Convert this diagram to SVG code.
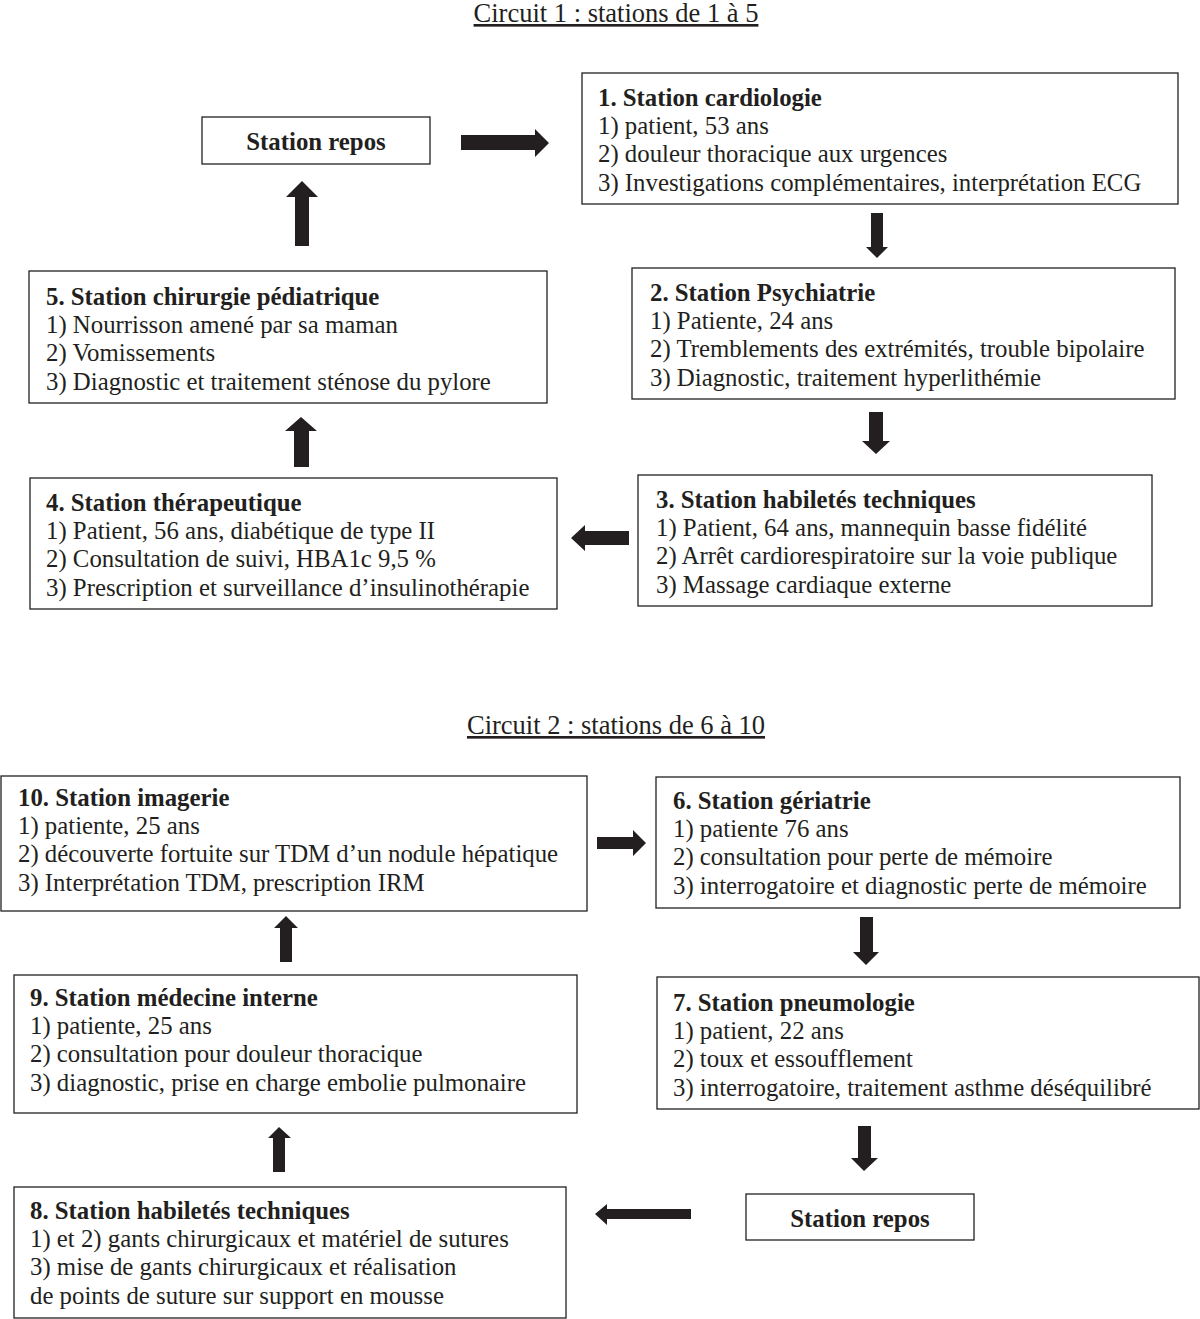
<svg xmlns="http://www.w3.org/2000/svg" width="1200" height="1319" viewBox="0 0 1200 1319">
<style>
text{font-family:"Liberation Serif","Times New Roman",serif;font-size:24.8px;fill:#231f20}
.b{font-weight:bold}
.t{text-decoration:underline;font-size:26.5px}
.box{fill:#fff;stroke:#231f20;stroke-width:1.3}
.ar{fill:#231f20}
</style>
<rect width="1200" height="1319" fill="#fff"/>
<text class="t" x="616" y="22" text-anchor="middle">Circuit 1 : stations de 1 à 5</text>
<text class="t" x="616" y="734" text-anchor="middle">Circuit 2 : stations de 6 à 10</text>

<g id="repos1"><rect class="box" x="202" y="117" width="228" height="47"/><text class="b" x="316" y="150" text-anchor="middle">Station repos</text></g>
<g id="s1"><rect class="box" x="582" y="73" width="596" height="131"/>
<text x="598" y="106" class="b">1. Station cardiologie</text>
<text x="598" y="134">1) patient, 53 ans</text>
<text x="598" y="162">2) douleur thoracique aux urgences</text>
<text x="598" y="191">3) Investigations complémentaires, interprétation ECG</text></g>
<g id="s2"><rect class="box" x="632" y="268" width="543" height="131"/>
<text x="650" y="301" class="b">2. Station Psychiatrie</text>
<text x="650" y="329">1) Patiente, 24 ans</text>
<text x="650" y="357">2) Tremblements des extrémités, trouble bipolaire</text>
<text x="650" y="386">3) Diagnostic, traitement hyperlithémie</text></g>
<g id="s3"><rect class="box" x="638" y="475" width="514" height="131"/>
<text x="656" y="508" class="b">3. Station habiletés techniques</text>
<text x="656" y="536">1) Patient, 64 ans, mannequin basse fidélité</text>
<text x="656" y="564">2) Arrêt cardiorespiratoire sur la voie publique</text>
<text x="656" y="593">3) Massage cardiaque externe</text></g>
<g id="s4"><rect class="box" x="30" y="478" width="527" height="131"/>
<text x="46" y="511" class="b">4. Station thérapeutique</text>
<text x="46" y="539">1) Patient, 56 ans, diabétique de type II</text>
<text x="46" y="567">2) Consultation de suivi, HBA1c 9,5 %</text>
<text x="46" y="596">3) Prescription et surveillance d’insulinothérapie</text></g>
<g id="s5"><rect class="box" x="29" y="271" width="518" height="132"/>
<text x="46" y="305" class="b">5. Station chirurgie pédiatrique</text>
<text x="46" y="333">1) Nourrisson amené par sa maman</text>
<text x="46" y="361">2) Vomissements</text>
<text x="46" y="390">3) Diagnostic et traitement sténose du pylore</text></g>

<g id="s10"><rect class="box" x="1" y="776" width="586" height="135"/>
<text x="18" y="806" class="b">10. Station imagerie</text>
<text x="18" y="834">1) patiente, 25 ans</text>
<text x="18" y="862">2) découverte fortuite sur TDM d’un nodule hépatique</text>
<text x="18" y="891">3) Interprétation TDM, prescription IRM</text></g>
<g id="s6"><rect class="box" x="656" y="777" width="524" height="131"/>
<text x="673" y="809" class="b">6. Station gériatrie</text>
<text x="673" y="837">1) patiente 76 ans</text>
<text x="673" y="865">2) consultation pour perte de mémoire</text>
<text x="673" y="894">3) interrogatoire et diagnostic perte de mémoire</text></g>
<g id="s7"><rect class="box" x="657" y="977" width="542" height="132"/>
<text x="673" y="1011" class="b">7. Station pneumologie</text>
<text x="673" y="1039">1) patient, 22 ans</text>
<text x="673" y="1067">2) toux et essoufflement</text>
<text x="673" y="1096">3) interrogatoire, traitement asthme déséquilibré</text></g>
<g id="repos2"><rect class="box" x="746" y="1194" width="228" height="46"/><text class="b" x="860" y="1227" text-anchor="middle">Station repos</text></g>
<g id="s8"><rect class="box" x="14" y="1187" width="552" height="131"/>
<text x="30" y="1219" class="b">8. Station habiletés techniques</text>
<text x="30" y="1247">1) et 2) gants chirurgicaux et matériel de sutures</text>
<text x="30" y="1275">3) mise de gants chirurgicaux et réalisation</text>
<text x="30" y="1304">de points de suture sur support en mousse</text></g>
<g id="s9"><rect class="box" x="14" y="975" width="563" height="138"/>
<text x="30" y="1006" class="b">9. Station médecine interne</text>
<text x="30" y="1034">1) patiente, 25 ans</text>
<text x="30" y="1062">2) consultation pour douleur thoracique</text>
<text x="30" y="1091">3) diagnostic, prise en charge embolie pulmonaire</text></g>

<g id="connectors">
<polygon class="ar" points="461,135 535,135 535,129 549,143 535,157 535,150 461,150"/>
<polygon class="ar" points="295,246 295,197 286,197 302,181 318,197 309,197 309,246"/>
<polygon class="ar" points="871,213 883,213 883,247 888,247 877,258 866,247 871,247"/>
<polygon class="ar" points="869,412 883,412 883,441 890,441 876,454 862,441 869,441"/>
<polygon class="ar" points="629,531 585,531 585,525 571,538 585,551 585,545 629,545"/>
<polygon class="ar" points="294,467 294,431 285,431 301,417 317,431 309,431 309,467"/>
<polygon class="ar" points="597,837 633,837 633,830 646,843 633,856 633,849 597,849"/>
<polygon class="ar" points="860,917 873,917 873,952 879,952 866,965 853,952 860,952"/>
<polygon class="ar" points="858,1126 871,1126 871,1158 878,1158 864,1171 851,1158 858,1158"/>
<polygon class="ar" points="691,1209 607,1209 607,1204 595,1214 607,1225 607,1219 691,1219"/>
<polygon class="ar" points="273,1172 273,1138 268,1138 279,1127 291,1138 285,1138 285,1172"/>
<polygon class="ar" points="280,962 280,928 274,928 286,916 298,928 292,928 292,962"/>
</g>
</svg>
